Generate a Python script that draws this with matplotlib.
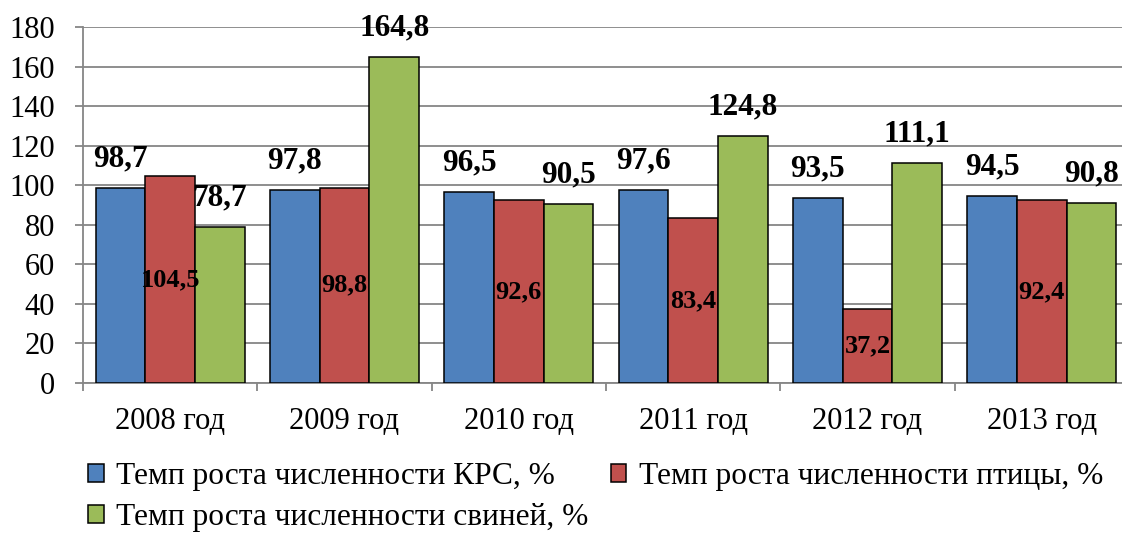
import numpy as np
import matplotlib
matplotlib.use("Agg")
import matplotlib.pyplot as plt

plt.rcParams['font.family'] = ['Liberation Serif', 'DejaVu Serif']

years = ["2008 год", "2009 год", "2010 год", "2011 год", "2012 год", "2013 год"]
krs = [98.7, 97.8, 96.5, 97.6, 93.5, 94.5]
birds = [104.5, 98.8, 92.6, 83.4, 37.2, 92.4]
pigs = [78.7, 164.8, 90.5, 124.8, 111.1, 90.8]
series_names = ["Темп роста численности КРС, %",
                "Темп роста численности птицы, %",
                "Темп роста численности свиней, %"]
colors = ["#4F81BD", "#C0504D", "#9BBB59"]
grid_col = "#868686"


def fmt(v):
    return f"{v:.1f}".replace(".", ",")


fig = plt.figure(figsize=(11.22, 5.36), dpi=100)
ax = fig.add_axes([83 / 1122, 1 - 383 / 536, 1046 / 1122, 356 / 536])

x = np.arange(len(years))
w = 0.285
bars = []
for k, vals in enumerate([krs, birds, pigs]):
    b = ax.bar(x + (k - 1) * w, vals, w, color=colors[k], edgecolor="black",
               linewidth=1.1, zorder=3, label=series_names[k])
    bars.append(b)

# labels: blue and green above bars, red in the middle of the bar
for k, vals in [(0, krs), (2, pigs)]:
    for xi, v in zip(x, vals):
        ax.annotate(fmt(v), (xi + (k - 1) * w, v), xytext=(0, 21),
                    textcoords="offset points", ha="center", va="center",
                    fontsize=22.5, fontweight="bold", zorder=5)
for xi, v in zip(x, birds):
    ax.text(xi, v / 2, fmt(v), ha="center", va="center", fontsize=19,
            fontweight="bold", zorder=5)

ax.set_ylim(0, 180)
ax.set_xlim(-0.5, len(years) - 0.5)
ax.set_yticks(np.arange(0, 181, 20))
ax.yaxis.grid(True, color=grid_col, linewidth=1.3, zorder=0)
ax.set_axisbelow(True)

ax.set_xticks(x)
ax.set_xticklabels(years)
ax.set_xticks(np.arange(-0.5, len(years)), minor=True)
ax.tick_params(axis="x", which="major", length=0, pad=17, labelsize=22)
ax.tick_params(axis="x", which="minor", length=6, color=grid_col, width=1.3)
ax.tick_params(axis="y", length=6, color=grid_col, width=1.3, pad=14,
               labelsize=22)

for s in ["top", "right"]:
    ax.spines[s].set_visible(False)
for s in ["left", "bottom"]:
    ax.spines[s].set_color(grid_col)
    ax.spines[s].set_linewidth(1.3)

h = [bars[0], bars[2], bars[1]]
lab = [series_names[0], series_names[2], series_names[1]]
leg = fig.legend(h, lab, ncol=2, loc="upper left",
                 bbox_to_anchor=(88 / 1122, 1 - 462 / 536), frameon=False,
                 fontsize=22.6, handlelength=0.5, handleheight=0.5,
                 handletextpad=0.4, columnspacing=0.7, labelspacing=0.38,
                 borderpad=0, borderaxespad=0)

fig.savefig("out.png", dpi=100)
